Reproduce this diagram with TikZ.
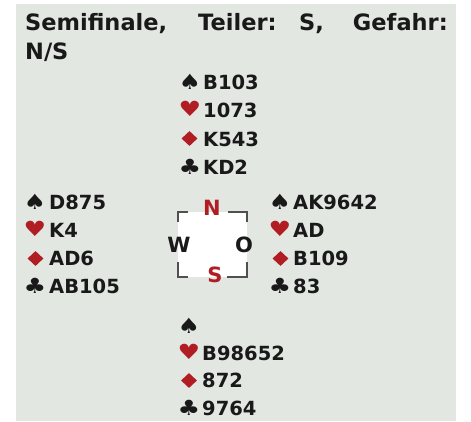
\documentclass[tikz,border=0pt]{standalone}
\usepackage{fontspec}
\usepackage{graphicx}
\usetikzlibrary{shapes.geometric}
\setmainfont{DejaVu Sans}
\definecolor{bg}{RGB}{226,231,226}
\definecolor{suitred}{RGB}{176,30,36}
\definecolor{ink}{RGB}{25,25,25}
\definecolor{framegray}{RGB}{80,80,80}
\newcommand{\widesuit}[1]{\scalebox{1.2}[1]{#1}}
\tikzset{
  titletext/.style={font=\fontsize{22.5}{26}\selectfont\bfseries, anchor=base west, inner sep=0pt, text=ink},
  cardtext/.style={font=\fontsize{19.5}{22}\selectfont\bfseries, anchor=base west, inner sep=0pt, text=ink},
  suitsym/.style={font=\fontsize{21}{24}\selectfont, inner sep=0pt},
  blacksuit/.style={suitsym, text=ink},
  redsuit/.style={suitsym, text=suitred},
  diamsuit/.style={diamond, fill=suitred, inner sep=0pt, minimum width=16pt, minimum height=15pt},
  dirtext/.style={font=\fontsize{21}{24}\selectfont\bfseries, inner sep=0pt},
  bracketline/.style={draw=framegray, line width=2pt}
}
\begin{document}
\begin{tikzpicture}[x=1pt,y=-1pt]
\useasboundingbox (0,0) rectangle (471,421);
\fill[white] (0,0) rectangle (471,421);
\fill[bg] (16,4) rectangle (456,421);
% title
\node[titletext] (t1) at (25,30) {Semifinale,};
\node[titletext] (t2) at (198,30) {Teiler:};
\node[titletext] (t3) at (299,30) {S,};
\node[titletext, anchor=base east] (t4) at (448,30) {Gefahr:};
\node[titletext] (t5) at (25,59) {N/S};
% North
\node[blacksuit] (ns) at (190,82) {\widesuit{♠}};
\node[redsuit]   (nh) at (190,109) {\widesuit{♥}};
\node[diamsuit]  (nd) at (189.5,138.5) {};
\node[blacksuit] (nc) at (190,167) {\widesuit{♣}};
\node[cardtext] (nst) at (203,89) {B103};
\node[cardtext] (nht) at (203,117) {1073};
\node[cardtext] (ndt) at (203,146) {K543};
\node[cardtext] (nct) at (203,174) {KD2};
% West
\node[blacksuit] (ws) at (35,202) {\widesuit{♠}};
\node[redsuit]   (wh) at (35,229) {\widesuit{♥}};
\node[diamsuit]  (wd) at (35.5,258.5) {};
\node[blacksuit] (wc) at (35,286) {\widesuit{♣}};
\node[cardtext] (wst) at (49,209.5) {D875};
\node[cardtext] (wht) at (49,237) {K4};
\node[cardtext] (wdt) at (49,265) {AD6};
\node[cardtext] (wct) at (49,293) {AB105};
% East
\node[blacksuit] (es) at (280,202) {\widesuit{♠}};
\node[redsuit]   (eh) at (280,229) {\widesuit{♥}};
\node[diamsuit]  (ed) at (280.5,258.5) {};
\node[blacksuit] (ec) at (280,286) {\widesuit{♣}};
\node[cardtext] (est) at (293,209.5) {AK9642};
\node[cardtext] (eht) at (293,237) {AD};
\node[cardtext] (edt) at (293,265) {B109};
\node[cardtext] (ect) at (293,293) {83};
% South
\node[blacksuit] (ss) at (189,326) {\widesuit{♠}};
\node[redsuit]   (sh) at (189,352) {\widesuit{♥}};
\node[diamsuit]  (sd) at (189,380.5) {};
\node[blacksuit] (sc) at (189,408) {\widesuit{♣}};
\node[cardtext] (sht) at (202,360) {B98652};
\node[cardtext] (sdt) at (202,387.5) {872};
\node[cardtext] (sct) at (202,415.5) {9764};
% compass
\fill[white] (178,212) rectangle (247,277);
\draw[bracketline] (188,212) -- (178,212) -- (178,222);
\draw[bracketline] (228,212) -- (247,212) -- (247,222);
\draw[bracketline] (178,262) -- (178,277) -- (188,277);
\draw[bracketline] (227,277) -- (247,277) -- (247,262);
\node[dirtext, text=suitred] (dn) at (212,208) {N};
\node[dirtext, text=suitred] (ds) at (215,275) {S};
\node[dirtext, text=ink] (dw) at (179,245) {W};
\node[dirtext, text=ink] (do) at (244,245) {O};
\end{tikzpicture}
\end{document}
